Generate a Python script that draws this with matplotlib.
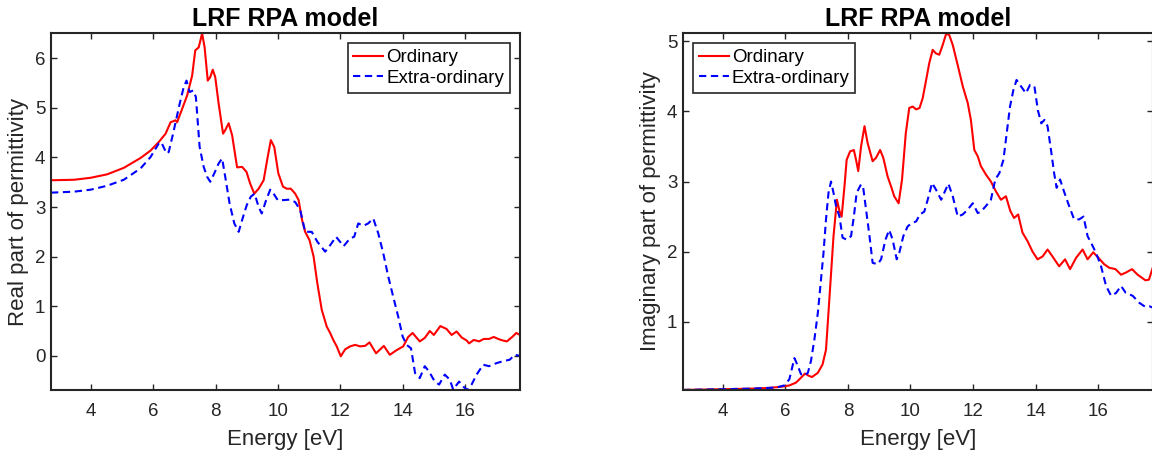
import matplotlib
matplotlib.use("Agg")
import matplotlib.pyplot as plt

plt.rcParams["font.family"] = ["Liberation Sans", "DejaVu Sans"]

AX_COLOR = "#262626"

# Real part of permittivity, ordinary
energy_re_o = [2.73, 3.47, 4.0, 4.53, 5.06, 5.6, 5.92, 6.18, 6.4, 6.56, 6.72, 6.77,
               6.93, 7.09, 7.25, 7.35, 7.46, 7.57, 7.65, 7.75, 7.83, 7.91, 7.99, 8.1,
               8.24, 8.31, 8.42, 8.53, 8.69, 8.85, 8.99, 9.11, 9.24, 9.38, 9.54, 9.67,
               9.77, 9.88, 10.01, 10.16, 10.28, 10.41, 10.55, 10.66, 10.77, 10.87, 11.01,
               11.14, 11.26, 11.4, 11.56, 11.67, 11.77, 11.88, 12.01, 12.15, 12.31, 12.47,
               12.63, 12.79, 12.93, 13.14, 13.39, 13.58, 13.79, 14.01, 14.17, 14.31, 14.54,
               14.7, 14.86, 14.99, 15.2, 15.4, 15.56, 15.72, 15.88, 16.04, 16.12, 16.27,
               16.44, 16.59, 16.76, 16.91, 17.05, 17.19, 17.33, 17.5, 17.63, 17.75]
re_o = [3.54, 3.55, 3.59, 3.66, 3.79, 3.99, 4.14, 4.31, 4.48, 4.71, 4.75, 4.71,
        4.98, 5.25, 5.65, 6.16, 6.22, 6.50, 6.22, 5.55, 5.62, 5.77, 5.62, 5.08,
        4.48, 4.55, 4.69, 4.45, 3.80, 3.81, 3.71, 3.47, 3.27, 3.37, 3.54, 4.01,
        4.35, 4.21, 3.68, 3.41, 3.37, 3.37, 3.27, 3.14, 2.74, 2.50, 2.33,
        2.00, 1.46, 0.93, 0.59, 0.46, 0.32, 0.19, -0.01, 0.13, 0.19, 0.22,
        0.19, 0.20, 0.27, 0.05, 0.20, 0.02, 0.11, 0.19, 0.38, 0.46, 0.29,
        0.36, 0.50, 0.42, 0.60, 0.54, 0.42, 0.49, 0.37, 0.31, 0.25, 0.32,
        0.29, 0.34, 0.34, 0.38, 0.34, 0.31, 0.29, 0.38, 0.46, 0.42]

# Real part of permittivity, extra-ordinary
energy_re_e = [2.73, 3.47, 4.0, 4.53, 5.06, 5.6, 5.92, 6.18, 6.26, 6.43, 6.5, 6.64,
               6.72, 6.85, 6.98, 7.07, 7.17, 7.28, 7.37, 7.49, 7.62, 7.73, 7.83, 7.96,
               8.1, 8.21, 8.31, 8.45, 8.6, 8.74, 8.88, 9.0, 9.13, 9.25, 9.38, 9.48,
               9.62, 9.75, 9.86, 9.99, 10.18, 10.39, 10.55, 10.71, 10.87, 11.08, 11.26,
               11.51, 11.67, 11.86, 12.1, 12.31, 12.44, 12.57, 12.73, 12.89, 13.05,
               13.21, 13.37, 13.53, 13.69, 13.85, 13.99, 14.12, 14.26, 14.39, 14.54,
               14.7, 14.84, 15.02, 15.16, 15.34, 15.5, 15.61, 15.8, 15.93, 16.06,
               16.2, 16.36, 16.57, 16.76, 16.99, 17.2, 17.42, 17.58, 17.75]
re_e = [3.29, 3.31, 3.35, 3.43, 3.55, 3.78, 4.01, 4.28, 4.31, 4.08, 4.11, 4.48,
        4.71, 5.08, 5.42, 5.55, 5.32, 5.35, 5.22, 4.21, 3.81, 3.61, 3.51, 3.68,
        3.88, 3.98, 3.61, 3.07, 2.67, 2.50, 2.80, 3.04, 3.21, 3.27, 3.00, 2.87,
        3.14, 3.35, 3.27, 3.14, 3.14, 3.15, 3.10, 2.94, 2.50, 2.50, 2.30,
        2.10, 2.23, 2.40, 2.21, 2.37, 2.40, 2.67, 2.62, 2.67, 2.77,
        2.47, 2.07, 1.60, 1.19, 0.79, 0.39, 0.22, 0.15, -0.35, -0.45,
        -0.21, -0.32, -0.52, -0.58, -0.38, -0.48, -0.68, -0.52, -0.62, -0.69,
        -0.58, -0.38, -0.18, -0.21, -0.15, -0.11, -0.08, 0.02, 0.0]

# Imaginary part of permittivity, ordinary
energy_im_o = [2.73, 4.0, 4.96, 5.49, 5.92, 6.13, 6.34, 6.5, 6.63, 6.74, 6.85, 7.04,
               7.19, 7.3, 7.41, 7.54, 7.65, 7.73, 7.8, 7.89, 7.96, 8.07, 8.19, 8.26,
               8.33, 8.42, 8.53, 8.63, 8.79, 8.9, 9.03, 9.13, 9.27, 9.38, 9.48, 9.62,
               9.73, 9.85, 9.96, 10.07, 10.18, 10.29, 10.39, 10.5, 10.6, 10.71, 10.81,
               10.92, 11.03, 11.14, 11.24, 11.35, 11.51, 11.67, 11.83, 11.93, 12.04,
               12.15, 12.25, 12.41, 12.57, 12.73, 12.89, 13.05, 13.19, 13.31, 13.44,
               13.58, 13.74, 13.9, 14.06, 14.22, 14.38, 14.54, 14.75, 14.94, 15.1,
               15.29, 15.5, 15.66, 15.84, 16.01, 16.19, 16.35, 16.55, 16.73, 16.88,
               17.08, 17.26, 17.51, 17.62, 17.75]
im_o = [0.026, 0.036, 0.045, 0.055, 0.074, 0.09, 0.13, 0.20, 0.26, 0.23, 0.21, 0.27,
        0.39, 0.60, 1.34, 2.22, 2.74, 2.58, 2.50, 2.93, 3.31, 3.43, 3.45, 3.31,
        3.15, 3.50, 3.79, 3.55, 3.29, 3.34, 3.45, 3.34, 3.07, 2.93, 2.79, 2.69,
        3.03, 3.69, 4.05, 4.07, 4.03, 4.05, 4.19, 4.45, 4.69, 4.88, 4.83,
        4.81, 4.95, 5.11, 5.09, 4.95, 4.66, 4.36, 4.12, 3.88, 3.45,
        3.36, 3.22, 3.10, 3.00, 2.86, 2.74, 2.79, 2.58, 2.48, 2.53,
        2.27, 2.15, 2.00, 1.89, 1.93, 2.03, 1.93, 1.79, 1.89, 1.75,
        1.91, 2.03, 1.89, 1.99, 1.91, 1.82, 1.77, 1.75, 1.67, 1.70,
        1.75, 1.67, 1.59, 1.60, 1.78]

# Imaginary part of permittivity, extra-ordinary
energy_im_e = [2.73, 4.0, 4.96, 5.7, 5.97, 6.13, 6.29, 6.4, 6.5, 6.61, 6.72, 6.82,
               6.93, 7.04, 7.22, 7.3, 7.38, 7.46, 7.54, 7.62, 7.73, 7.83, 7.96, 8.1,
               8.19, 8.28, 8.42, 8.49, 8.58, 8.69, 8.79, 8.95, 9.06, 9.2, 9.32, 9.43,
               9.56, 9.64, 9.77, 9.91, 10.05, 10.18, 10.3, 10.44, 10.55, 10.69, 10.82,
               10.98, 11.08, 11.21, 11.35, 11.51, 11.67, 11.83, 11.99, 12.15, 12.25,
               12.41, 12.57, 12.71, 12.84, 12.97, 13.05, 13.18, 13.29, 13.39, 13.53,
               13.69, 13.82, 13.96, 14.07, 14.18, 14.28, 14.38, 14.49, 14.59, 14.67,
               14.78, 14.92, 15.07, 15.23, 15.39, 15.53, 15.66, 15.8, 15.93, 16.09,
               16.25, 16.41, 16.57, 16.73, 16.88, 17.1, 17.31, 17.51, 17.63, 17.75]
im_e = [0.026, 0.036, 0.045, 0.06, 0.09, 0.18, 0.48, 0.37, 0.25, 0.23, 0.27, 0.44,
        0.75, 1.13, 1.98, 2.46, 2.84, 3.00, 2.84, 2.65, 2.50, 2.20, 2.17, 2.22,
        2.50, 2.84, 2.96, 2.91, 2.60, 2.22, 1.84, 1.82, 1.89, 2.17, 2.31, 2.17,
        1.89, 1.98, 2.22, 2.36, 2.41, 2.43, 2.53, 2.57, 2.74, 2.98, 2.88,
        2.74, 2.84, 2.97, 2.79, 2.50, 2.53, 2.60, 2.69, 2.55, 2.57,
        2.65, 2.74, 3.03, 3.12, 3.31, 3.60, 4.07, 4.31, 4.45, 4.36,
        4.26, 4.38, 4.36, 4.02, 3.83, 3.88, 3.79, 3.45, 3.12, 2.91,
        3.03, 2.84, 2.65, 2.46, 2.46, 2.50, 2.22, 2.10, 1.98, 1.79,
        1.51, 1.37, 1.41, 1.51, 1.41, 1.37, 1.27, 1.21, 1.22, 1.20]

xlim = (2.73, 17.75)
xticks = [4, 6, 8, 10, 12, 14, 16]

fig = plt.figure(figsize=(11.52, 4.57), dpi=100)
ax1 = fig.add_axes([51 / 1152, 67 / 457, 469 / 1152, 357 / 457])
ax2 = fig.add_axes([683 / 1152, 67 / 457, 470 / 1152, 357 / 457])

panels = [
    (ax1, energy_re_o, re_o, energy_re_e, re_e, (-0.69, 6.51), [0, 1, 2, 3, 4, 5, 6],
     "Real part of permittivity", "upper right"),
    (ax2, energy_im_o, im_o, energy_im_e, im_e, (0.025, 5.12), [1, 2, 3, 4, 5],
     "Imaginary part of permittivity", "upper left"),
]

for ax, xo, yo, xe, ye, ylim, yticks, ylabel, loc in panels:
    ax.plot(xo, yo, color="red", lw=1.5, label="Ordinary")
    ax.plot(xe, ye, color="blue", lw=1.5, ls=(0, (3.5, 2.2)), label="Extra-ordinary")
    ax.set_xlim(*xlim)
    ax.set_ylim(*ylim)
    ax.set_xticks(xticks)
    ax.set_yticks(yticks)
    ax.tick_params(direction="in", top=True, right=True, length=4.3, width=1.0,
                   labelsize=13.5, colors=AX_COLOR, labelcolor=AX_COLOR)
    ax.tick_params(axis="x", pad=9)
    ax.tick_params(axis="y", pad=4)
    for sp in ax.spines.values():
        sp.set_linewidth(1.5)
        sp.set_color(AX_COLOR)
    ax.set_xlabel("Energy [eV]", fontsize=16, color=AX_COLOR, labelpad=7)
    ax.set_ylabel(ylabel, fontsize=16, color=AX_COLOR, labelpad=4)
    ax.set_title("LRF RPA model", fontsize=18, fontweight="bold", pad=5)
    leg = ax.legend(loc=loc, fontsize=13.5, fancybox=False, framealpha=1,
                    edgecolor=AX_COLOR, borderpad=0.3, labelspacing=0.2,
                    handlelength=1.6, handletextpad=0.15, borderaxespad=0.55)
    leg.get_frame().set_linewidth(1.2)

fig.savefig("out.png", dpi=100)
